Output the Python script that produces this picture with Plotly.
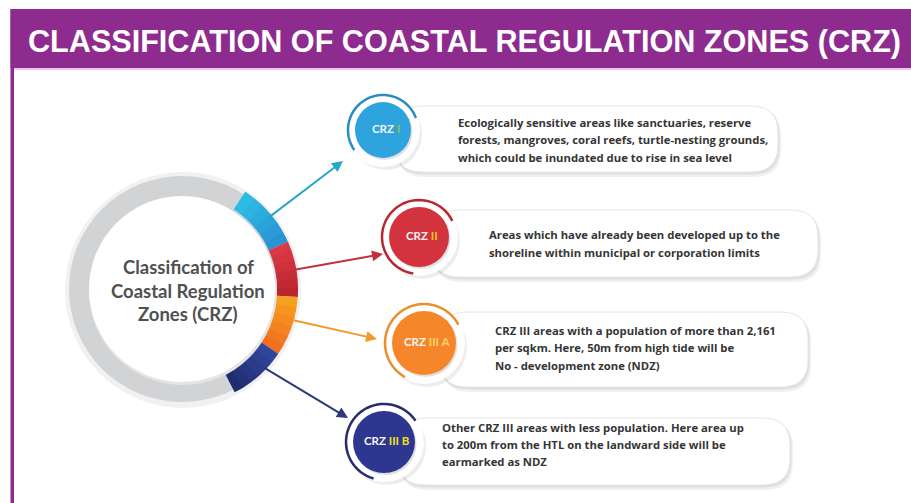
import math
import plotly.graph_objects as go

W, H = 911, 503

# ---------------- content ----------------
title = "CLASSIFICATION OF COASTAL REGULATION ZONES (CRZ)"
center_lines = ["Classification of", "Coastal Regulation", "Zones (CRZ)"]
zone_prefix = ["CRZ", "CRZ", "CRZ", "CRZ"]
zone_suffix = ["I", "II", "III A", "III B"]
zone_desc = [
    ["Ecologically sensitive areas like sanctuaries, reserve",
     "forests, mangroves, coral reefs, turtle-nesting grounds,",
     "which could be inundated due to rise in sea level"],
    ["Areas which have already been developed up to the",
     "shoreline within municipal or corporation limits"],
    ["CRZ III areas with a population of more than 2,161",
     "per sqkm. Here, 50m from high tide will be",
     "No - development zone (NDZ)"],
    ["Other CRZ III areas with less population. Here area up",
     "to 200m from the HTL on the landward side will be",
     "earmarked as NDZ"],
]
# ring segment extents (degrees, counter-clockwise from 3 o'clock)
segment_start = [57, 24, -4, -34]
segment_end = [24, -4, -34, -63]

# ---------------- styles / layout ----------------
PURPLE = "#8e2b8e"
seg_colors = [("#2bc0e6", "#2a8fd2"), ("#dd3b48", "#b8232c"),
              ("#f8a51f", "#ef6a21"), ("#3048a0", "#1f2a6c")]
fill_colors = ["#2fa3dd", "#d2333f", "#f5872a", "#2d3790"]
arc_colors = ["#2b8cc4", "#b8262f", "#e8912a", "#262d6e"]
arrow_colors = ["#2aa6c9", "#c5303b", "#f29a2c", "#2b3a78"]
suffix_colors = ["#8dc63f", "#f7c71e", "#fbd36b", "#f2e31a"]

CX, CY, R_IN, R_OUT = 182, 289, 93, 113
nodes = [(383, 130, 28, 35), (419, 237, 30, 37), (424, 343, 32, 39), (384, 442, 31, 38)]
arc_span = [(20, 215), (26, 261), (28, 241), (34, 254)]
boxes = [(395, 106, 778, 172), (432, 210, 818, 277), (440, 312, 808, 387), (398, 418, 790, 485)]
text_left = [456, 487, 493, 440]
text_top = [122, 234, 330, 427]
line_gap = [17.8, 18.5, 17.5, 17.2]
arrows = [((268, 218), (343, 161)), ((293, 270), (383, 254)),
          ((292, 320), (377, 339)), ((263, 367), (348, 418))]

shapes = []
annotations = []


def pt(cx, cy, r, a):
    t = math.radians(a)
    return cx + r * math.cos(t), cy - r * math.sin(t)


def sector_path(cx, cy, r0, r1, a0, a1, n=24):
    pts = [pt(cx, cy, r1, a0 + (a1 - a0) * i / n) for i in range(n + 1)]
    pts += [pt(cx, cy, r0, a1 + (a0 - a1) * i / n) for i in range(n + 1)]
    return "M " + " L ".join(f"{x:.2f},{y:.2f}" for x, y in pts) + " Z"


def arc_path(cx, cy, r, a0, a1, n=40):
    pts = [pt(cx, cy, r, a0 + (a1 - a0) * i / n) for i in range(n + 1)]
    return "M " + " L ".join(f"{x:.2f},{y:.2f}" for x, y in pts)


def rrect(x0, y0, x1, y1, r):
    return (f"M {x0+r},{y0} L {x1-r},{y0} Q {x1},{y0} {x1},{y0+r} L {x1},{y1-r} "
            f"Q {x1},{y1} {x1-r},{y1} L {x0+r},{y1} Q {x0},{y1} {x0},{y1-r} "
            f"L {x0},{y0+r} Q {x0},{y0} {x0+r},{y0} Z")


def mix(c1, c2, t):
    a = [int(c1[i:i+2], 16) for i in (1, 3, 5)]
    b = [int(c2[i:i+2], 16) for i in (1, 3, 5)]
    return "#" + "".join(f"{round(a[k] + (b[k]-a[k]) * t):02x}" for k in range(3))


def circle(cx, cy, r, fill, line=None, lw=0, opacity=1):
    return dict(type="circle", xref="x", yref="y", x0=cx - r, y0=cy - r, x1=cx + r, y1=cy + r,
                fillcolor=fill, line=dict(color=line or "rgba(0,0,0,0)", width=lw), opacity=opacity)


# frame + header
shapes.append(dict(type="rect", x0=10.5, x1=14, y0=9, y1=503, fillcolor=PURPLE, line_width=0))
shapes.append(dict(type="rect", x0=10.5, x1=911, y0=9, y1=68, fillcolor=PURPLE, line_width=0))
shapes.append(dict(type="rect", x0=14, x1=911, y0=68, y1=70, fillcolor="#ecc9ec", line_width=0))
annotations.append(dict(x=26, y=41, text=title, showarrow=False, xanchor="left", yanchor="middle",
                        font=dict(family="Liberation Sans, Arial, sans-serif", size=30.6, color="white",
                                  weight=700)))

# big ring: halo, grey band, coloured segments, inner disc
shapes.append(circle(CX + 1, CY + 1, R_OUT + 5, "#f1f1f2"))
shapes.append(circle(CX, CY, R_OUT, "#d2d3d5"))
for i in range(4):
    a0, a1 = segment_start[i], segment_end[i]
    steps = 6
    for s in range(steps):
        b0 = a0 + (a1 - a0) * s / steps
        b1 = a0 + (a1 - a0) * (s + 1) / steps + (0.3 if s < steps - 1 else 0) * (1 if a1 > a0 else -1)
        shapes.append(dict(type="path", path=sector_path(CX, CY, R_IN + 2, R_OUT + 3, b0, b1, 6),
                           fillcolor=mix(seg_colors[i][0], seg_colors[i][1], (s + 0.5) / steps),
                           line_width=0))
shapes.append(circle(CX + 1, CY + 2, R_IN + 1, "#e4e4e6"))
shapes.append(circle(CX, CY, R_IN, "white"))
for k, line in enumerate(center_lines):
    annotations.append(dict(x=188, y=267 + 23.5 * k, text=line, showarrow=False, xanchor="center",
                            yanchor="middle",
                            font=dict(family="Lato, Open Sans, sans-serif", size=18.5, color="#505050",
                                      weight=700)))

# description boxes
for i, (x0, y0, x1, y1) in enumerate(boxes):
    shapes.append(dict(type="path", path=rrect(x0 + 2, y0 + 3, x1 + 3, y1 + 5, 27),
                       fillcolor="rgba(0,0,0,0.06)", line_width=0))
    shapes.append(dict(type="path", path=rrect(x0 + 1, y0 + 1, x1 + 1.5, y1 + 2.5, 27),
                       fillcolor="rgba(0,0,0,0.07)", line_width=0))
    shapes.append(dict(type="path", path=rrect(x0, y0, x1, y1, 27), fillcolor="white",
                       line=dict(color="#e6e6e6", width=1)))
    for k, line in enumerate(zone_desc[i]):
        annotations.append(dict(x=text_left[i], y=text_top[i] + line_gap[i] * k, text=line,
                                showarrow=False, xanchor="left", yanchor="middle",
                                font=dict(family="Open Sans, Lato, sans-serif", size=11.3,
                                          color="#353535", weight=700)))

# node circles
for i, (cx, cy, rf, ra) in enumerate(nodes):
    shapes.append(circle(cx + 3, cy + 4, ra + 1, "rgba(0,0,0,0.07)"))
    shapes.append(circle(cx, cy, ra + 2, "white"))
    shapes.append(dict(type="path", path=arc_path(cx, cy, ra, arc_span[i][0], arc_span[i][1]),
                       line=dict(color=arc_colors[i], width=2.5)))
    shapes.append(circle(cx + 1.5, cy + 2, rf, "rgba(0,0,0,0.12)"))
    shapes.append(circle(cx, cy, rf, fill_colors[i]))
    txt = (f"{zone_prefix[i]} <span style='color:{suffix_colors[i]}'>{zone_suffix[i]}</span>")
    annotations.append(dict(x=cx + 3, y=cy - 2, text=txt, showarrow=False, xanchor="center",
                            yanchor="middle",
                            font=dict(family="Lato, Open Sans, sans-serif", size=11.5,
                                      color="#f4f4f4", weight=700)))

# connector arrows
for i, ((tx, ty), (hx, hy)) in enumerate(arrows):
    annotations.append(dict(x=hx, y=hy, ax=tx, ay=ty, xref="x", yref="y", axref="x", ayref="y",
                            text="", showarrow=True, arrowhead=2, arrowsize=1.1, arrowwidth=2,
                            arrowcolor=arrow_colors[i], standoff=0, startstandoff=0))

fig = go.Figure()
fig.add_trace(go.Scatter(x=[0], y=[0], mode="markers", marker=dict(opacity=0), hoverinfo="skip",
                         showlegend=False))
fig.update_layout(
    width=W, height=H, margin=dict(l=0, r=0, t=0, b=0),
    paper_bgcolor="white", plot_bgcolor="white",
    xaxis=dict(range=[0, W], visible=False, fixedrange=True),
    yaxis=dict(range=[H, 0], visible=False, fixedrange=True),
    shapes=shapes, annotations=annotations, showlegend=False,
)
fig.write_html("out.html", config={"displayModeBar": False},
               post_script="document.body.style.margin='0';document.body.style.overflow='hidden';")
